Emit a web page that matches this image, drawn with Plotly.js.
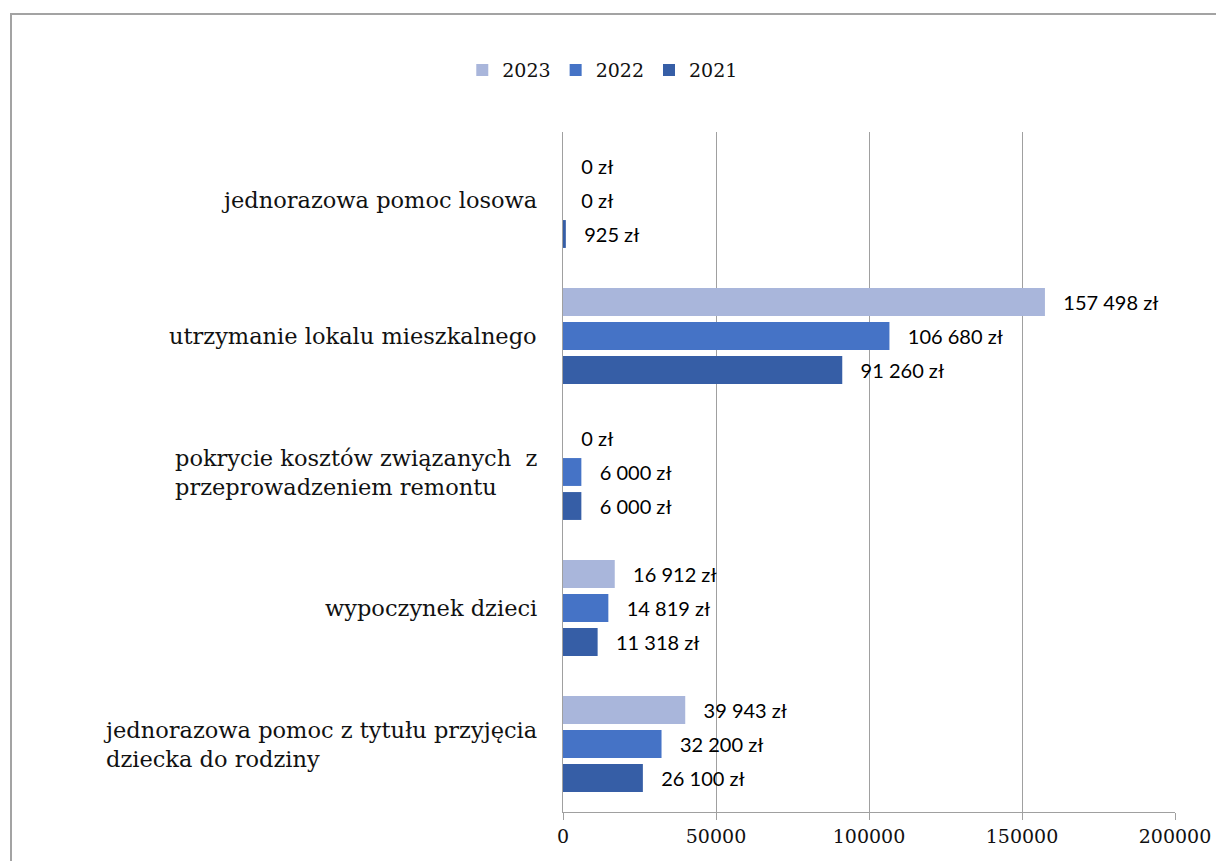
<!DOCTYPE html>
<html>
<head>
<meta charset="utf-8">
<script src="https://cdn.plot.ly/plotly-3.0.1.min.js"></script>
<style>
html,body{margin:0;padding:0;overflow:hidden;background:#fff;}
#wrap{position:relative;width:1216px;height:861px;overflow:hidden;}
#chart{position:absolute;left:0;top:0;width:1216px;height:861px;}
#frame{position:absolute;left:10px;top:13px;width:1400px;height:1000px;border:2px solid #a3a3a3;pointer-events:none;box-sizing:border-box;}
</style>
</head>
<body>
<div id="wrap"><div id="chart"></div><div id="frame"></div></div>
<script>
const categories = [
  "jednorazowa pomoc z tytułu przyjęcia<br>dziecka do rodziny",
  "wypoczynek dzieci",
  "pokrycie kosztów związanych  z<br>przeprowadzeniem remontu",
  "utrzymanie lokalu mieszkalnego",
  "jednorazowa pomoc losowa"
];
const years = ["2021", "2022", "2023"];
const values2021 = [26100, 11318, 6000, 91260, 925];
const values2022 = [32200, 14819, 6000, 106680, 0];
const values2023 = [39943, 16912, 0, 157498, 0];
const xTicks = [0, 50000, 100000, 150000, 200000];

const colors = {"2021": "#365EA6", "2022": "#4573C6", "2023": "#A9B6DB"};
const seriesValues = {"2021": values2021, "2022": values2022, "2023": values2023};

const serif = "DejaVu Serif";
const sans = "Lato";
const pad = "\u00a0\u00a0\u00a0";

const traces = years.map(y => ({
  type: "bar",
  orientation: "h",
  name: y,
  y: categories,
  x: seriesValues[y],
  marker: {color: colors[y], line: {width: 0}},
  texttemplate: pad + "%{x:,.0f} zł",
  textposition: "outside",
  cliponaxis: false,
  textfont: {family: sans, size: 20, color: "#000"},
  hoverinfo: "x+name"
}));

const annotations = categories.map(c => ({
  xref: "paper", yref: "y",
  x: 0, y: c,
  xanchor: "right", yanchor: "middle",
  xshift: -24,
  text: c,
  align: "left",
  showarrow: false,
  font: {family: serif, size: 22.5, color: "#111"}
}));

const layout = {
  width: 1216, height: 861,
  margin: {l: 563, r: 41, t: 132, b: 49, pad: 0},
  paper_bgcolor: "rgba(0,0,0,0)",
  plot_bgcolor: "rgba(0,0,0,0)",
  font: {family: serif, color: "#111"},
  barmode: "group",
  bargap: 0.25,
  bargroupgap: 0.18,
  separators: ", ",
  showlegend: true,
  legend: {
    orientation: "h", traceorder: "reversed",
    x: 0.065, xanchor: "center", y: 1.091, yanchor: "middle",
    font: {family: serif, size: 19, color: "#111"},
    itemwidth: 30
  },
  xaxis: {
    range: [0, 200000],
    tickvals: xTicks,
    ticktext: xTicks.map(String),
    showgrid: true, gridcolor: "#a0a0a0", gridwidth: 1,
    zeroline: false,
    showline: true, linecolor: "#a0a0a0", linewidth: 1,
    ticks: "outside", ticklen: 7, tickcolor: "#a0a0a0",
    tickfont: {family: serif, size: 19, color: "#111"},
    fixedrange: true
  },
  yaxis: {
    type: "category",
    categoryorder: "array", categoryarray: categories,
    showticklabels: false,
    showgrid: false, zeroline: false,
    showline: true, linecolor: "#a0a0a0", linewidth: 1,
    ticks: "",
    fixedrange: true
  },
  annotations: annotations
};

Plotly.newPlot("chart", traces, layout, {displayModeBar: false, staticPlot: true});
</script>
</body>
</html>
